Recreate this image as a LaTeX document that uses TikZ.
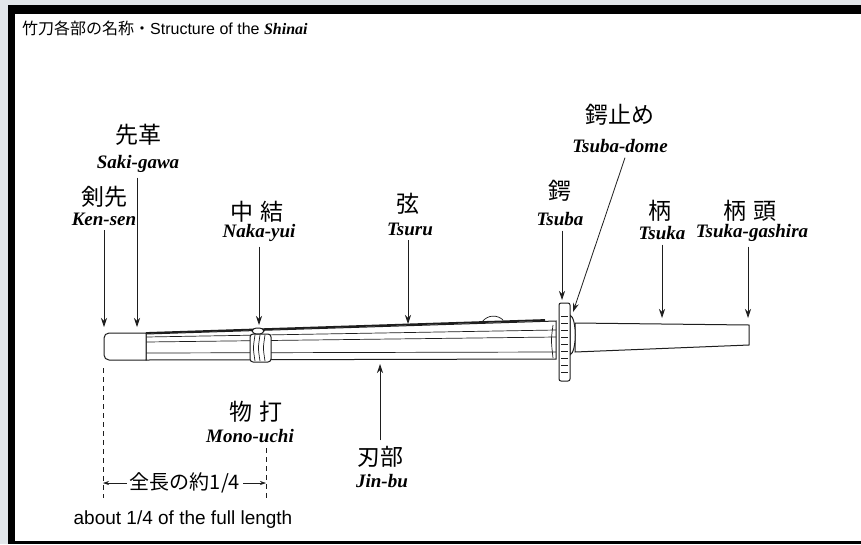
\documentclass[tikz,border=0pt]{standalone}
\usepackage{fontspec}
\setmainfont{Liberation Serif}
\setsansfont{Liberation Sans}
\newfontfamily\jpfont{Noto Sans CJK JP}
\usetikzlibrary{arrows.meta}

\definecolor{shinaicolor0000}{RGB}{226,230,234}
\definecolor{shinaicolor0001}{RGB}{0,0,0}
\definecolor{shinaicolor0002}{RGB}{30,30,30}

\begin{document}
\begin{tikzpicture}[x=1pt,y=-1pt
                ,jpname/.style={font=\jpfont\fontsize{23}{23}\selectfont,inner sep=0pt}
                ,rmname/.style={font=\bfseries\itshape\fontsize{19}{19}\selectfont,inner sep=0pt,outer sep=5pt}
                ,pointer/.style={color=shinaicolor0002,line width=0.8pt,-{Stealth[length=9pt,width=6pt]}}
                ,tinypointer/.style={color=shinaicolor0002,line width=0.6pt,-{Stealth[length=6pt,width=4pt]}}
                ,outline/.style={color=shinaicolor0002,fill=white,line width=1pt}
                ,thinline/.style={color=shinaicolor0002,line width=0.7pt}
                ,dimline/.style={color=shinaicolor0002,line width=0.7pt,dash pattern=on 5pt off 4pt}
            ]
            \useasboundingbox (0,0) rectangle (861,544);
            \fill[shinaicolor0000] (0,0) rectangle (861,544);
            \fill[shinaicolor0001] (8,5) rectangle (861,544);
            \fill[white] (15,14) rectangle (861,541);
            \node[anchor=west,inner sep=0pt,font=\fontsize{16}{16}\selectfont] (title) at (22,28)
                {{\jpfont 竹刀各部の名称・}{\sffamily Structure of the }{\bfseries\itshape Shinai}};
            % labels
            \node[jpname] (sakigawaJ) at (138,135) {先革};
            \node[rmname] (sakigawa) at (138,164) {Saki-gawa};
            \node[jpname] (kensenJ) at (104,197) {剣先};
            \node[rmname] (kensen) at (104,219) {Ken-sen};
            \node[jpname] (nakayuiJ) at (257,212) {中\hspace{7pt}結};
            \node[rmname] (nakayui) at (259,233) {Naka-yui};
            \node[jpname] (tsuruJ) at (408,204) {弦};
            \node[rmname] (tsuru) at (410,229) {Tsuru};
            \node[jpname] (tsubadomeJ) at (620,115) {鍔止め};
            \node[rmname] (tsubadome) at (620,146) {Tsuba-dome};
            \node[jpname] (tsubaJ) at (560,191) {鍔};
            \node[rmname] (tsuba) at (560,219) {Tsuba};
            \node[jpname] (tsukaJ) at (660,211) {柄};
            \node[rmname] (tsuka) at (662,233) {Tsuka};
            \node[jpname] (tsukagashiraJ) at (750,211) {柄\hspace{7pt}頭};
            \node[rmname] (tsukagashira) at (752,233) {Tsuka-gashira};
            \node[jpname] (monouchiJ) at (256,412) {物\hspace{7pt}打};
            \node[rmname] (monouchi) at (250,436) {Mono-uchi};
            \node[jpname] (jinbuJ) at (380,457) {刃部};
            \node[rmname] (jinbu) at (382,481) {Jin-bu};
            % pointed spots on the sword
            \coordinate (kensenP) at (104,327);
            \coordinate (sakigawaP) at (137,327);
            \coordinate (nakayuiP) at (259,325);
            \coordinate (tsuruP) at (408,324);
            \coordinate (tsubaP) at (562,300);
            \coordinate (tsubadomeP) at (573,312);
            \coordinate (tsukaP) at (662,318);
            \coordinate (tsukagashiraP) at (748,318);
            \coordinate (jinbuP) at (380,364);
            % body of the shinai
            \draw[outline] (146,334) -- (556,321) -- (556,359) -- (146,360) -- cycle;
            \draw[thinline] (146,337) -- (556,330);
            \draw[thinline] (146,342) -- (556,337);
            \draw[thinline] (146,353) -- (556,352);
            \draw[thinline] (553,325) .. controls (551,340) .. (553,358);
            \draw[color=shinaicolor0002,line width=1.8pt] (146,333) -- (545,320);
            \draw[thinline] (482,322) .. controls (488,314) and (498,315) .. (503,320);
            \draw[outline] (146,333) [rounded corners=5pt] -- (104,333) -- (104,360) [sharp corners] -- (146,360) -- cycle;
            \draw[outline,rounded corners=3pt] (250,334) rectangle (271,362);
            \foreach \x in {255,260,265}
                \draw[thinline] (\x,335) .. controls (\x-2,348) .. (\x,361);
            \draw[outline] (258,331) ellipse (6pt and 3pt);
            % tsuba, tsuba-dome, tsuka
            \draw[outline] (575,323) -- (749,325) -- (749,345) -- (575,352) -- cycle;
            \draw[outline] (570,315) .. controls (577,318) and (577,352) .. (570,355) -- cycle;
            \draw[outline,rounded corners=2pt] (559,303) rectangle (570,381);
            \foreach \y in {316,323,...,372}
                \draw[thinline] (561,\y) -- (568,\y);
            % pointers
            \draw[pointer] (sakigawa.south -| sakigawaP) -- (sakigawaP);
            \draw[pointer] (kensen.south -| kensenP) -- (kensenP);
            \draw[pointer] (nakayui.south -| nakayuiP) -- (nakayuiP);
            \draw[pointer] (tsuru.south -| tsuruP) -- (tsuruP);
            \draw[pointer] (tsuba.south -| tsubaP) -- (tsubaP);
            \draw[pointer] (tsubadome.south) ++(5,0) -- (tsubadomeP);
            \draw[pointer] (tsuka.south -| tsukaP) -- (tsukaP);
            \draw[pointer] (tsukagashira.south -| tsukagashiraP) -- (tsukagashiraP);
            \draw[pointer] ([yshift=6pt]jinbuJ.north -| jinbuP) -- (jinbuP);
            % about a quarter of the length
            \coordinate (quarterL) at (103,483);
            \coordinate (quarterR) at (266,483);
            \draw[dimline] (103,368) -- (103,498);
            \draw[dimline] (266,448) -- (266,498);
            \node[jpname,font=\jpfont\fontsize{20}{20}\selectfont] (quarter) at (185,483) {全長の約1/4};
            \draw[tinypointer] ([xshift=-3pt]quarter.west) -- (quarterL);
            \draw[tinypointer] ([xshift=3pt]quarter.east) -- (quarterR);
            \node[font=\sffamily\fontsize{19}{19}\selectfont] (aboutline) at (183,520) {about 1/4 of the full length};
        \end{tikzpicture}
\end{document}
